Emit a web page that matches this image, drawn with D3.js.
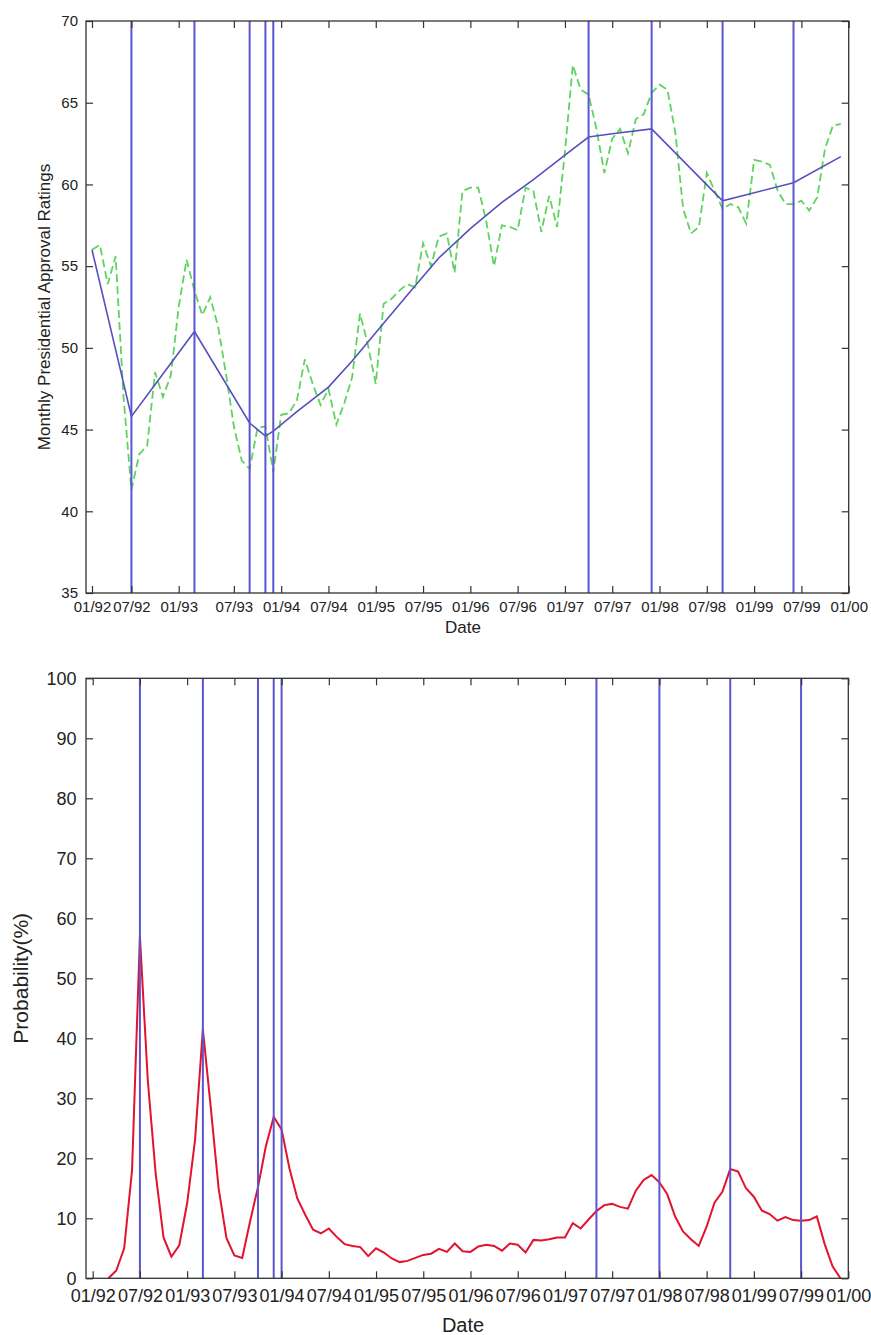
<!DOCTYPE html>
<html>
<head>
<meta charset="utf-8">
<script src="https://cdn.jsdelivr.net/npm/d3@7"></script>
<style>
  body { margin: 0; background: #fff; }
  text { font-family: "Liberation Sans", Arial, sans-serif; fill: #222; }
</style>
</head>
<body>
<svg id="chart"></svg>
<script>
// month index: 0 = 01/92, 96 = 01/00
const tickLabels = ["01/92","07/92","01/93","07/93","01/94","07/94","01/95","07/95","01/96",
                    "07/96","01/97","07/97","01/98","07/98","01/99","07/99","01/00"];
const topTickMonths = [0,5,11,18,24,30,36,42,48,54,60,66,72,78,84,90,96];
const bottomTickMonths = [0,6,12,18,24,30,36,42,48,54,60,66,72,78,84,90,96];

// monthly approval ratings, months 0..95
const approval = [56.0,56.3,53.9,55.6,47.0,41.3,43.5,44.0,48.5,47.0,48.3,52.5,
                  55.4,53.5,52.0,53.1,51.3,48.4,45.2,43.1,42.6,45.1,45.2,42.4,
                  45.9,46.0,46.8,49.3,47.8,46.5,47.5,45.3,46.6,48.2,52.1,50.2,
                  47.8,52.7,53.0,53.5,53.9,53.7,56.4,55.0,56.8,57.0,54.6,59.6,
                  59.8,59.8,57.8,55.0,57.5,57.4,57.2,59.8,59.6,57.1,59.3,57.4,
                  62.0,67.3,65.8,65.5,63.4,60.7,62.8,63.4,61.9,64.0,64.3,65.6,
                  66.1,65.8,63.2,58.5,57.0,57.4,60.7,59.6,58.5,58.8,58.6,57.6,
                  61.5,61.4,61.2,59.6,58.8,58.8,59.0,58.4,59.2,62.2,63.6,63.7];

// fitted trend
const trendMonths = [0,5,13,20,22,23,26,30,33,37,41,44,48,52,56,60,63,66,71,80,89,95];
const trendValues = [56.0,45.8,51.0,45.4,44.6,44.9,46.1,47.6,49.2,51.5,53.8,55.5,
                     57.3,58.9,60.3,61.8,62.9,63.1,63.4,59.0,60.1,61.7];

// change points
const topBreaks = [5,13,20,22,23,63,71,80,89];
const bottomBreaks = [6,14,21,23,24,64,72,81,90];

// probability (%), months 2..95
const probStart = 2;
const probability = [0,1.3,5.0,18,57,33,17.5,6.8,3.6,5.5,12.5,23,41.5,28.5,15,6.7,
                     3.8,3.4,9.5,15.2,22,26.9,24.8,18.3,13.3,10.6,8.1,7.5,8.3,6.9,
                     5.7,5.4,5.2,3.7,5.0,4.3,3.3,2.7,2.9,3.4,3.9,4.1,4.9,4.4,
                     5.8,4.5,4.4,5.3,5.6,5.4,4.6,5.8,5.6,4.3,6.4,6.3,6.5,6.8,6.8,
                     9.2,8.3,9.8,11.2,12.2,12.4,11.9,11.6,14.6,16.4,17.2,16.0,14.0,
                     10.3,7.8,6.5,5.4,8.6,12.6,14.4,18.2,17.8,15.0,13.6,11.3,10.7,
                     9.6,10.2,9.7,9.6,9.7,10.3,5.7,2.0,0];

const svg = d3.select("#chart").attr("width", 871).attr("height", 1335);

const breakColor = "#5a56cf";

function boxAxes(g, x, y, w, h, xTicks, yTicks, fontSize, xPad, yPad) {
  const lab = d => tickLabels[xTicks.indexOf(d)];
  const axes = [
    g.append("g").attr("transform", `translate(0,${h})`)
      .call(d3.axisBottom(x).tickValues(xTicks).tickFormat(lab)
        .tickSizeInner(-7).tickSizeOuter(0).tickPadding(xPad)),
    g.append("g")
      .call(d3.axisTop(x).tickValues(xTicks).tickFormat("")
        .tickSizeInner(-7).tickSizeOuter(0)),
    g.append("g")
      .call(d3.axisLeft(y).tickValues(yTicks)
        .tickSizeInner(-7).tickSizeOuter(0).tickPadding(yPad)),
    g.append("g").attr("transform", `translate(${w},0)`)
      .call(d3.axisRight(y).tickValues(yTicks).tickFormat("")
        .tickSizeInner(-7).tickSizeOuter(0))
  ];
  axes.forEach(a => {
    a.select(".domain").remove();
    a.attr("font-size", fontSize).attr("font-family", null);
    a.selectAll("line").attr("stroke", "#333").attr("stroke-width", 1.2);
  });
  g.append("rect")
    .attr("width", w).attr("height", h)
    .attr("fill", "none").attr("stroke", "#333").attr("stroke-width", 1.3);
}

// ---------- top chart ----------
const m1 = { left: 86, top: 21, width: 762.7, height: 572 };
const g1 = svg.append("g").attr("transform", `translate(${m1.left},${m1.top})`);
const x1 = d3.scaleLinear().domain([-0.76, 96]).range([0, m1.width]);
const y1 = d3.scaleLinear().domain([35, 70]).range([m1.height, 0]);

g1.append("path")
  .datum(approval)
  .attr("fill", "none")
  .attr("stroke", "#5fd35f")
  .attr("stroke-width", 1.8)
  .attr("stroke-dasharray", "8,4")
  .attr("d", d3.line().x((d, i) => x1(i)).y(d => y1(d)));

g1.append("path")
  .datum(trendMonths.map((m, i) => [m, trendValues[i]]))
  .attr("fill", "none")
  .attr("stroke", "#5550bd")
  .attr("stroke-width", 1.6)
  .attr("d", d3.line().x(d => x1(d[0])).y(d => y1(d[1])));

g1.selectAll(".brk")
  .data(topBreaks)
  .enter()
  .append("line")
  .attr("x1", d => x1(d)).attr("x2", d => x1(d))
  .attr("y1", 0).attr("y2", m1.height)
  .attr("stroke", breakColor).attr("stroke-width", 2);

boxAxes(g1, x1, y1, m1.width, m1.height, topTickMonths, d3.range(35, 71, 5), 15, 8.5, 8);

svg.append("text")
  .attr("x", 463)
  .attr("y", 633)
  .attr("text-anchor", "middle")
  .style("font-size", "17px")
  .text("Date");

svg.append("text")
  .attr("transform", `translate(50,${m1.top + m1.height / 2}) rotate(-90)`)
  .attr("text-anchor", "middle")
  .style("font-size", "17px")
  .text("Monthly Presidential Approval Ratings");

// ---------- bottom chart ----------
const m2 = { left: 86, top: 678.3, width: 762.3, height: 600 };
const g2 = svg.append("g").attr("transform", `translate(${m2.left},${m2.top})`);
const x2 = d3.scaleLinear().domain([-0.85, 96]).range([0, m2.width]);
const y2 = d3.scaleLinear().domain([0, 100]).range([m2.height, 0]);

g2.append("path")
  .datum(probability)
  .attr("fill", "none")
  .attr("stroke", "#e3122e")
  .attr("stroke-width", 2)
  .attr("d", d3.line().x((d, i) => x2(i + probStart)).y(d => y2(d)));

g2.selectAll(".brk")
  .data(bottomBreaks)
  .enter()
  .append("line")
  .attr("x1", d => x2(d)).attr("x2", d => x2(d))
  .attr("y1", 0).attr("y2", m2.height)
  .attr("stroke", breakColor).attr("stroke-width", 2);

boxAxes(g2, x2, y2, m2.width, m2.height, bottomTickMonths, d3.range(0, 101, 10), 18, 11, 9.5);

svg.append("text")
  .attr("x", 463)
  .attr("y", 1332)
  .attr("text-anchor", "middle")
  .style("font-size", "20px")
  .text("Date");

svg.append("text")
  .attr("transform", `translate(28,${m2.top + m2.height / 2}) rotate(-90)`)
  .attr("text-anchor", "middle")
  .style("font-size", "21px")
  .text("Probability(%)");
</script>
</body>
</html>
